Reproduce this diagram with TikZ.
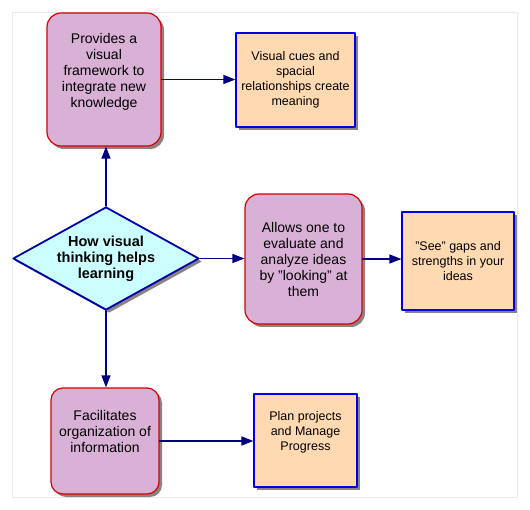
\documentclass[tikz,border=0pt]{standalone}
\usepackage{fontspec}
\setmainfont{Liberation Sans}
\usetikzlibrary{arrows.meta}
\usetikzlibrary{shapes.geometric}
\usetikzlibrary{shadows}
\definecolor{ideafill}{RGB}{217,176,214}
\definecolor{idealine}{RGB}{214,0,0}
\definecolor{gainfill}{RGB}{255,217,178}
\definecolor{gainline}{RGB}{0,0,230}
\definecolor{askfill}{RGB}{204,255,255}
\definecolor{askline}{RGB}{0,0,170}
\definecolor{linkline}{RGB}{0,0,128}
\definecolor{shade}{RGB}{140,130,130}
\begin{document}
\begin{tikzpicture}[line cap=round,line join=round,>={Triangle[length=12pt,width=9pt]},x=1.0pt,y=-1.0pt,
    idea/.style={draw=idealine,fill=ideafill,line width=1.2pt,rounded corners=14pt,align=center,
      font=\fontsize{14}{16}\selectfont,drop shadow={shadow xshift=3pt,shadow yshift=-3pt,fill=shade,opacity=1}},
    gain/.style={draw=gainline,fill=gainfill,line width=1.2pt,align=center,
      font=\fontsize{12.5}{15}\selectfont,drop shadow={shadow xshift=3pt,shadow yshift=-3pt,fill=shade,opacity=1}},
    ask/.style={diamond,draw=askline,fill=askfill,line width=1.8pt,aspect=1.8,inner sep=0pt,align=center,
      font=\fontsize{14.5}{16}\bfseries\selectfont,drop shadow={shadow xshift=3pt,shadow yshift=-3pt,fill=shade,opacity=1}},
    raised/.style={text depth=19pt},
    link/.style={->,color=linkline,line width=1.3pt}]
        \useasboundingbox (0,0) rectangle (530,510);
        \draw[color=black!8,line width=0.8pt] (12,12) rectangle (517,497);
        \node[idea,raised,minimum width=114pt,minimum height=133pt] (frame) at (104,79.5) {Provides a\\visual\\framework to\\integrate new\\knowledge};
        \node[gain,minimum width=119pt,minimum height=94pt] (cues) at (295.5,80) {Visual cues and\\spacial\\relationships create\\meaning};
        \node[ask,minimum width=186pt,minimum height=103pt] (how) at (106,258.5) {How visual\\thinking helps\\learning};
        \node[idea,minimum width=117pt,minimum height=130pt] (judge) at (303.5,259) {Allows one to\\evaluate and\\analyze ideas\\by "looking" at\\them};
        \node[gain,minimum width=112pt,minimum height=98pt] (gaps) at (458,261) {"See" gaps and\\strengths in your\\ideas};
        \node[idea,raised,rounded corners=12pt,minimum width=108pt,minimum height=106pt] (order) at (105,441) {Facilitates\\organization of\\information};
        \node[gain,raised,minimum width=103pt,minimum height=93pt] (plan) at (305.5,440.5) {Plan projects\\and Manage\\Progress};
        \draw[link] (how.north) -- (how.north |- frame.south);
        \draw[link] (frame.east) -- (frame.east -| cues.west);
        \draw[link] (how.east) -- (how.east -| judge.west);
        \draw[link] (judge.east) -- (judge.east -| gaps.west);
        \draw[link] (how.south) -- (how.south |- order.north);
        \draw[link] (order.east) -- (order.east -| plan.west);
\end{tikzpicture}
\end{document}
